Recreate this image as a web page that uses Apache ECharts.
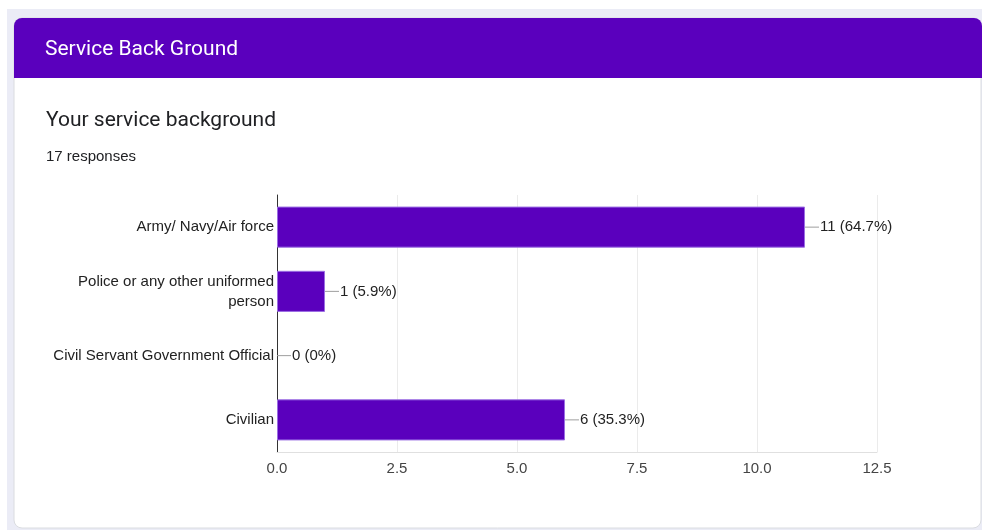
<!DOCTYPE html>
<html>
<head>
<meta charset="utf-8">
<script src="https://cdn.jsdelivr.net/npm/echarts@6/dist/echarts.min.js"></script>
<style>
  html, body { margin: 0; padding: 0; background: #ffffff; }
  #chart { width: 982px; height: 530px; }
</style>
</head>
<body>
<div id="chart"></div>
<script>
// Survey question: service background of respondents
const categories = [
  'Army/ Navy/Air force',
  'Police or any other uniformed\nperson',
  'Civil Servant Government Official',
  'Civilian'
];
const counts = [11, 1, 0, 6];
const percents = ['64.7%', '5.9%', '0%', '35.3%'];
const xTicks = [0, 2.5, 5, 7.5, 10, 12.5];
const responses = 17;

const PURPLE = '#5a00bd';
const SANS = '"Liberation Sans", Arial, sans-serif';
const chart = echarts.init(document.getElementById('chart'), null, { renderer: 'canvas' });

chart.setOption({
  backgroundColor: '#ffffff',
  animation: false,
  graphic: [
    // page backdrop
    { type: 'rect', z: -10, shape: { x: 7, y: 9, width: 975, height: 521 }, style: { fill: '#ebecf6' } },
    // card
    { type: 'rect', z: -9, shape: { x: 14, y: 18, width: 967, height: 510, r: 8 }, style: { fill: '#ffffff', stroke: '#dadce0', lineWidth: 1 } },
    // card header
    { type: 'rect', z: -8, shape: { x: 14, y: 18, width: 968, height: 60, r: [8, 8, 0, 0] }, style: { fill: PURPLE } },
    { type: 'text', z: 5, left: 45, top: 39, style: { text: 'Service Back Ground', fill: '#ffffff', font: '400 21px Roboto, "Open Sans", sans-serif' } },
    { type: 'text', z: 5, left: 46, top: 110, style: { text: 'Your service background', fill: '#202124', font: '400 21px Roboto, "Open Sans", sans-serif' } },
    { type: 'text', z: 5, left: 46, top: 149, style: { text: responses + ' responses', fill: '#202124', font: '400 15px ' + SANS } }
  ],
  grid: { left: 277, right: 105, top: 195, bottom: 78, containLabel: false },
  xAxis: {
    type: 'value',
    min: xTicks[0],
    max: xTicks[xTicks.length - 1],
    interval: 2.5,
    axisLine: { show: true, lineStyle: { color: '#e0e0e0' } },
    axisTick: { show: false },
    splitLine: { show: true, lineStyle: { color: '#ebebeb' } },
    axisLabel: {
      margin: 9,
      color: '#444444',
      fontSize: 15,
      fontFamily: SANS,
      formatter: v => v.toFixed(1)
    }
  },
  yAxis: {
    type: 'category',
    inverse: true,
    data: categories,
    axisLine: { show: true, onZero: false, lineStyle: { color: '#333333' } },
    axisTick: { show: false },
    axisLabel: {
      margin: 3,
      color: '#222222',
      fontSize: 15,
      lineHeight: 20,
      fontFamily: SANS,
      align: 'right'
    }
  },
  series: [{
    type: 'bar',
    data: counts.map(v => ({ value: v, itemStyle: v === 0 ? { borderWidth: 0 } : {} })),
    barCategoryGap: '36%',
    itemStyle: { color: PURPLE, borderColor: '#9b6ee3', borderWidth: 1 },
    label: {
      show: true,
      position: 'right',
      distance: 0,
      formatter: p => '{l|}{t|' + p.value + ' (' + percents[p.dataIndex] + ')}',
      rich: {
        l: { width: 14, height: 1, backgroundColor: '#9e9e9e', verticalAlign: 'middle' },
        t: { fontSize: 15, color: '#222222', fontFamily: SANS, padding: [0, 0, 0, 1], lineHeight: 18, verticalAlign: 'middle' }
      }
    }
  }]
});
</script>
</body>
</html>
